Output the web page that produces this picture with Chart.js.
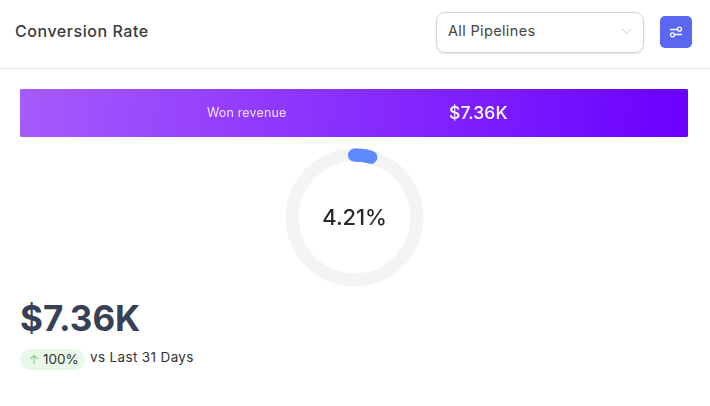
<!DOCTYPE html>
<html>
<head>
<meta charset="utf-8">
<title>Conversion Rate</title>
<script src="https://cdn.jsdelivr.net/npm/chart.js@4"></script>
<style>
  html, body { margin: 0; padding: 0; background: #fff; }
  body { width: 710px; height: 406px; position: relative; overflow: hidden; font-family: Inter, "Open Sans", sans-serif; }
  .abs { position: absolute; white-space: nowrap; line-height: 1; }
  #title { left: 15px; top: 23px; font-size: 16px; font-weight: 500; color: #3b3b3b; letter-spacing: .55px; }
  #divider { left: 0; top: 68px; width: 710px; height: 1px; background: #e9e9ee; }
  #select { left: 436px; top: 12px; width: 206px; height: 39px; border: 1px solid #d2d5e0; border-radius: 9px; box-shadow: 0 1px 2px rgba(60,60,90,.15); }
  #selectText { left: 448px; top: 24px; font-size: 14.5px; color: #454545; letter-spacing: .35px; }
  #chevron { left: 621px; top: 28px; }
  #filterBtn { left: 660px; top: 16px; width: 32px; height: 32px; border-radius: 5px; background: #5b67f1; }
  #filterBtn svg { position: absolute; left: 8px; top: 8px; }
  #barChartBox { left: 20px; top: 89px; width: 668px; height: 48px; }
  #barLabel { left: 207px; top: 107px; font-size: 12.5px; color: #f0e4ff; letter-spacing: .15px; }
  #barValue { left: 449px; top: 104px; font-size: 17.5px; font-weight: 500; color: #fff; letter-spacing: .1px; }
  #donutBox { left: 274px; top: 137px; width: 161px; height: 161px; }
  #donutText { left: 274px; width: 161px; text-align: center; top: 206px; font-size: 22px; font-weight: 500; color: #2a2a2a; letter-spacing: -.1px; }
  #bigValue { left: 20px; top: 301px; font-size: 35px; font-weight: 700; color: #364156; }
  #pill { left: 20px; top: 349px; width: 65px; height: 21px; border-radius: 11px; background: #e9f7e8; }
  #pill svg { position: absolute; left: 9px; top: 5px; }
  #pillText { left: 43px; top: 353px; font-size: 13.5px; font-weight: 400; color: #333; }
  #vsText { left: 90px; top: 351px; font-size: 13.5px; font-weight: 400; color: #333; letter-spacing: .35px; }
  canvas { display: block; }
</style>
</head>
<body>
<div class="abs" id="title">Conversion Rate</div>
<div class="abs" id="select"></div>
<div class="abs" id="selectText">All Pipelines</div>
<svg class="abs" id="chevron" width="11" height="7" viewBox="0 0 11 7"><path d="M1 1l4.5 4.5L10 1" fill="none" stroke="#c4c4c8" stroke-width="1"/></svg>
<div class="abs" id="filterBtn">
  <svg width="16" height="16" viewBox="0 0 16 16" fill="none" stroke="#fff" stroke-width="1.3">
    <path d="M2 5.5h7.5M7 10.5h7"/>
    <circle cx="11.5" cy="5.2" r="2"/><circle cx="4.5" cy="10.8" r="2"/>
  </svg>
</div>
<div class="abs" id="divider"></div>

<div class="abs" id="barChartBox"><canvas id="barChart"></canvas></div>
<div class="abs" id="barLabel">Won revenue</div>
<div class="abs" id="barValue">$7.36K</div>

<div class="abs" id="donutBox"><canvas id="donutChart"></canvas></div>
<div class="abs" id="donutText">4.21%</div>

<div class="abs" id="bigValue">$7.36K</div>
<div class="abs" id="pill">
  <svg width="10" height="11" viewBox="0 0 10 11" fill="none" stroke="#7fcf8a" stroke-width="1.1"><path d="M5 10V1.5M1.5 5L5 1.5 8.5 5"/></svg>
</div>
<div class="abs" id="pillText">100%</div>
<div class="abs" id="vsText">vs Last 31 Days</div>

<script>
// data
const stages = ["Won revenue"];
const revenue = [7.36];
const rateLabels = ["Converted", "Rest"];
const rateValues = [4.21, 95.79];

const BLUE = "#5b8bff";
const TRACK = "#f4f4f4";

// funnel bar
new Chart(document.getElementById("barChart"), {
  type: "bar",
  data: {
    labels: stages,
    datasets: [{
      data: revenue,
      barPercentage: 1,
      categoryPercentage: 1,
      borderRadius: 3,
      borderSkipped: false,
      backgroundColor: function (context) {
        const area = context.chart.chartArea;
        if (!area) return "#8a2ffb";
        const g = context.chart.ctx.createLinearGradient(area.left, area.top, area.right, area.top + 60);
        g.addColorStop(0, "#a65bfb");
        g.addColorStop(1, "#6a00ff");
        return g;
      },
    }],
  },
  options: {
    indexAxis: "y",
    responsive: true,
    maintainAspectRatio: false,
    animation: false,
    plugins: { legend: { display: false }, tooltip: { enabled: false } },
    scales: {
      x: { display: false, min: 0, max: revenue[0] },
      y: { display: false },
    },
  },
});

// round ends of the progress arc
const roundCaps = {
  id: "roundCaps",
  afterDatasetsDraw(chart) {
    const arc = chart.getDatasetMeta(0).data[0];
    const ctx = chart.ctx;
    ctx.save();
    ctx.beginPath();
    ctx.arc(arc.x, arc.y, (arc.innerRadius + arc.outerRadius) / 2, arc.startAngle, arc.endAngle);
    ctx.lineWidth = arc.outerRadius - arc.innerRadius;
    ctx.lineCap = "round";
    ctx.strokeStyle = BLUE;
    ctx.stroke();
    ctx.restore();
  },
};

// conversion donut
new Chart(document.getElementById("donutChart"), {
  type: "doughnut",
  data: {
    labels: rateLabels,
    datasets: [{
      data: rateValues,
      backgroundColor: [BLUE, TRACK],
      borderWidth: 0,
    }],
  },
  options: {
    responsive: true,
    maintainAspectRatio: false,
    animation: false,
    radius: 69,
    cutout: "81%",
    plugins: { legend: { display: false }, tooltip: { enabled: false } },
  },
  plugins: [roundCaps],
});
</script>
</body>
</html>
